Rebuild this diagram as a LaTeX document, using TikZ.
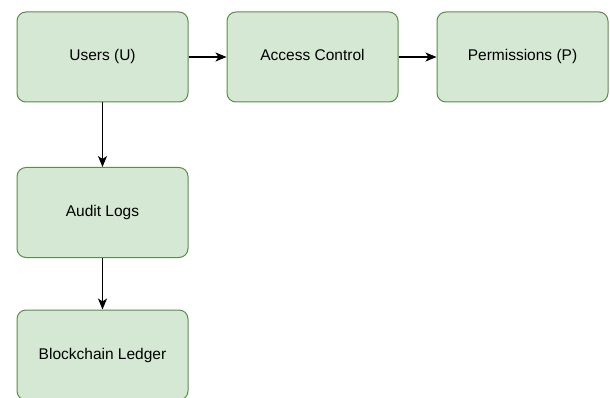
\documentclass[tikz,border=0pt]{standalone}
\usepackage{fontspec}
\setmainfont{Liberation Sans}
\usetikzlibrary{arrows.meta}
\definecolor{boxfill}{HTML}{D5E8D4}
\definecolor{boxline}{HTML}{5E8A4C}
\begin{document}
\begin{tikzpicture}[x=1pt,y=-1pt,
  box/.style={draw=boxline, fill=boxfill, line width=1pt, rounded corners=9pt,
    minimum width=171pt, minimum height=90pt, inner sep=0pt,
    text height=11pt, text depth=3pt,
    font=\fontsize{15.5pt}{18pt}\selectfont, text=black},
  conn/.style={draw=black, line width=1.1pt, -{Stealth[length=11pt,width=9pt,inset=3pt]}}]
\useasboundingbox (0,0) rectangle (610,398);
\fill[white] (0,0) rectangle (610,398);
\node[box] (users) at (102.5,57) {Users (U)};
\node[box] (access) at (312.5,57) {Access Control};
\node[box] (perm) at (522.5,57) {Permissions (P)};
\node[box] (audit) at (102.5,212.5) {Audit Logs};
\node[box] (ledger) at (102.5,355) {Blockchain Ledger};
\draw[conn] (users) -- (access);
\draw[conn] (access) -- (perm);
\draw[conn] (users) -- (audit);
\draw[conn] (audit) -- (ledger);
\end{tikzpicture}
\end{document}
